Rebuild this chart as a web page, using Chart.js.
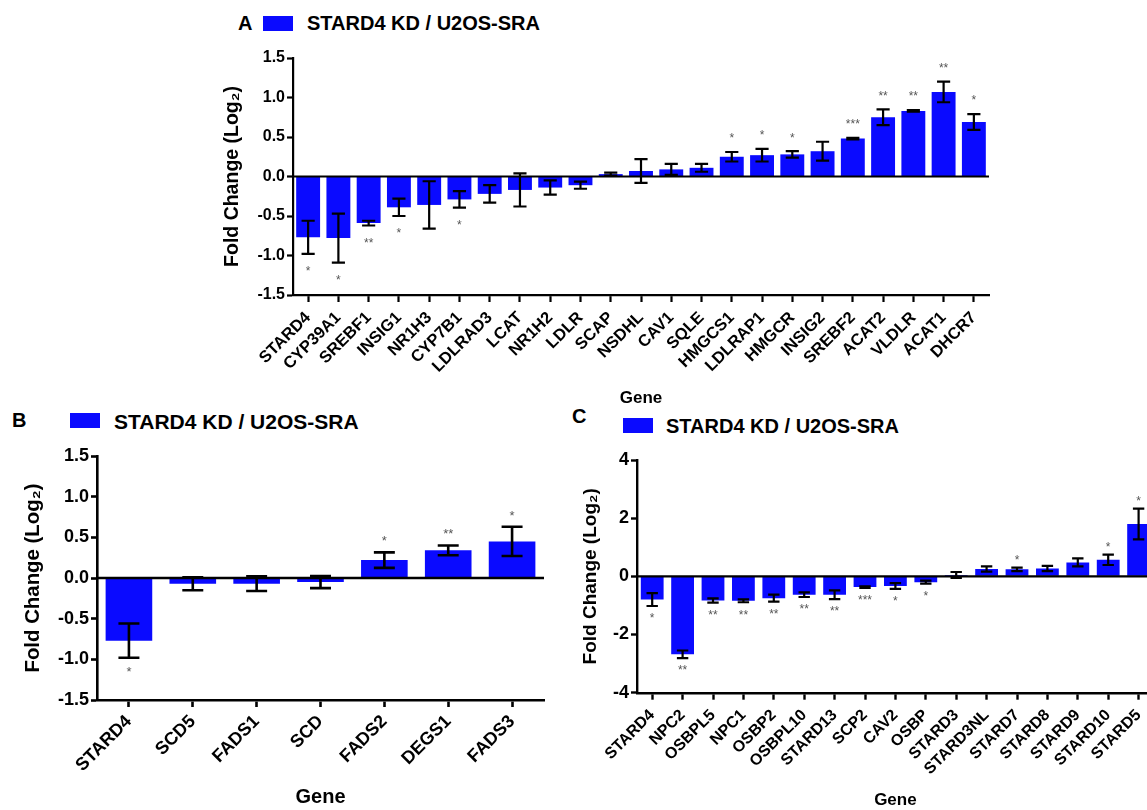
<!DOCTYPE html>
<html>
<head>
<meta charset="utf-8">
<script src="https://cdn.jsdelivr.net/npm/chart.js@4.4.1/dist/chart.umd.min.js"></script>
<style>
  html, body { margin:0; padding:0; width:1147px; height:810px; overflow:hidden; background:#fff; }
  body { position:relative; font-family:'Liberation Sans', Arial, sans-serif; }
  canvas { position:absolute; }
  .lbl { position:absolute; font-weight:bold; color:#000; white-space:nowrap; line-height:1; }
  .box { position:absolute; background:#0a0aff; }
</style>
</head>
<body>
<div class="lbl" style="left:238px; top:13px; font-size:20px;">A</div>
<div class="box" style="left:263px; top:16px; width:30px; height:15px;"></div>
<div class="lbl" style="left:307px; top:13px; font-size:20px;">STARD4 KD / U2OS-SRA</div>

<div class="lbl" style="left:12px; top:410px; font-size:20px;">B</div>
<div class="box" style="left:70px; top:413px; width:30px; height:15px;"></div>
<div class="lbl" style="left:114px; top:410.5px; font-size:21px;">STARD4 KD / U2OS-SRA</div>

<div class="lbl" style="left:572px; top:406px; font-size:20px;">C</div>
<div class="box" style="left:623px; top:418px; width:30px; height:15px;"></div>
<div class="lbl" style="left:666px; top:416px; font-size:20px;">STARD4 KD / U2OS-SRA</div>

<canvas id="cA" width="1000" height="415" style="left:0px; top:0px;"></canvas>
<canvas id="cB" width="560" height="370" style="left:0px; top:440px;"></canvas>
<canvas id="cC" width="600" height="372" style="left:560px; top:440px;"></canvas>

<script>
// ---------- DATA ----------
const seriesLabel = 'STARD4 KD / U2OS-SRA';

const genesA = ['STARD4','CYP39A1','SREBF1','INSIG1','NR1H3','CYP7B1','LDLRAD3','LCAT','NR1H2','LDLR','SCAP','NSDHL','CAV1','SQLE','HMGCS1','LDLRAP1','HMGCR','INSIG2','SREBF2','ACAT2','VLDLR','ACAT1','DHCR7'];
const valuesA = [-0.77,-0.78,-0.59,-0.39,-0.36,-0.29,-0.22,-0.17,-0.14,-0.11,0.03,0.07,0.09,0.11,0.25,0.27,0.28,0.32,0.48,0.75,0.83,1.07,0.69];
const errorsA = [0.21,0.31,0.03,0.11,0.30,0.105,0.11,0.21,0.09,0.045,0.02,0.15,0.07,0.05,0.06,0.08,0.04,0.12,0.01,0.10,0.01,0.13,0.10];
const starsA  = ['*','*','**','*','','*','','','','','','','','','*','*','*','','***','**','**','**','*'];
const yTicksA = [-1.5,-1.0,-0.5,0.0,0.5,1.0,1.5];

const genesB = ['STARD4','SCD5','FADS1','SCD','FADS2','DEGS1','FADS3'];
const valuesB = [-0.77,-0.07,-0.07,-0.05,0.22,0.34,0.45];
const errorsB = [0.21,0.08,0.09,0.075,0.095,0.06,0.18];
const starsB  = ['*','','','','*','**','*'];
const yTicksB = [-1.5,-1.0,-0.5,0.0,0.5,1.0,1.5];

const genesC = ['STARD4','NPC2','OSBPL5','NPC1','OSBP2','OSBPL10','STARD13','SCP2','CAV2','OSBP','STARD3','STARD3NL','STARD7','STARD8','STARD9','STARD10','STARD5'];
const valuesC = [-0.80,-2.68,-0.83,-0.84,-0.75,-0.63,-0.63,-0.37,-0.33,-0.20,0.05,0.25,0.24,0.27,0.48,0.57,1.80];
const errorsC = [0.22,0.13,0.07,0.05,0.12,0.08,0.15,0.03,0.10,0.05,0.10,0.09,0.06,0.09,0.14,0.18,0.53];
const starsC  = ['*','**','**','**','**','**','**','***','*','*','','','*','','','*','*'];
const yTicksC = [-4,-2,0,2,4];

// ---------- RENDERING ----------
Chart.defaults.color = '#000';
const FONT = "'Liberation Sans', Arial, sans-serif";
const BLUE = '#0a0aff';

const errorBarPlugin = {
  id: 'errorBars',
  afterDatasetsDraw(chart, args, opts) {
    const ctx = chart.ctx;
    const y = chart.scales.y;
    const area = chart.chartArea;
    const meta = chart.getDatasetMeta(0);
    const vals = chart.data.datasets[0].data;
    ctx.save();
    const y0 = y.getPixelForValue(0);
    ctx.strokeStyle = '#000';
    ctx.lineWidth = opts.axisWidth;
    ctx.beginPath();
    ctx.moveTo(area.left, y0);
    ctx.lineTo(area.right, y0);
    ctx.stroke();
    ctx.lineWidth = opts.lineWidth;
    meta.data.forEach((bar, i) => {
      const v = vals[i], e = opts.errors[i];
      const yt = y.getPixelForValue(v + e);
      const yb = y.getPixelForValue(v - e);
      const hw = bar.width * opts.capFrac / 2;
      ctx.beginPath();
      ctx.moveTo(bar.x, yt); ctx.lineTo(bar.x, yb);
      ctx.moveTo(bar.x - hw, yt); ctx.lineTo(bar.x + hw, yt);
      ctx.moveTo(bar.x - hw, yb); ctx.lineTo(bar.x + hw, yb);
      ctx.stroke();
      const s = opts.stars[i];
      if (s) {
        ctx.fillStyle = '#555';
        ctx.font = opts.starSize + 'px ' + FONT;
        ctx.textAlign = 'center';
        ctx.textBaseline = 'middle';
        const sy = v >= 0 ? yt - opts.gapUp : yb + opts.gapDown;
        ctx.fillText(s, bar.x, sy + opts.starSize * 0.25);
      }
    });
    ctx.restore();
  }
};

function makeChart(id, c) {
  return new Chart(document.getElementById(id), {
    type: 'bar',
    data: {
      labels: c.labels,
      datasets: [{
        label: seriesLabel,
        data: c.values,
        backgroundColor: BLUE,
        borderWidth: 0,
        barPercentage: c.barFrac,
        categoryPercentage: 1.0
      }]
    },
    options: {
      responsive: false,
      animation: false,
      events: [],
      layout: { padding: c.padding },
      plugins: {
        legend: { display: false },
        tooltip: { enabled: false },
        errorBars: {
          errors: c.errors, stars: c.stars, capFrac: c.capFrac,
          lineWidth: c.errWidth, axisWidth: c.axisWidth,
          starSize: c.starSize, gapUp: c.gapUp, gapDown: c.gapDown
        }
      },
      scales: {
        x: {
          type: 'category',
          offset: true,
          afterFit: s => { s.height = c.xHeight; },
          border: { display: true, color: '#000', width: c.axisWidth },
          grid: { display: true, offset: false, drawOnChartArea: false, drawTicks: true,
                  tickLength: 7, tickColor: '#000', tickWidth: c.axisWidth, color: '#000' },
          ticks: { autoSkip: false, minRotation: 45, maxRotation: 45, padding: c.xTickPad,
                   color: '#000', font: { family: FONT, weight: 'bold', size: c.xTickSize } },
          title: { display: true, text: 'Gene', color: '#000', padding: 0,
                   font: { family: FONT, weight: 'bold', size: c.xTitleSize } }
        },
        y: {
          min: c.yTicks[0], max: c.yTicks[c.yTicks.length - 1],
          afterBuildTicks: s => { s.ticks = c.yTicks.map(v => ({ value: v })); },
          afterFit: s => { s.width = c.yWidth; },
          border: { display: true, color: '#000', width: c.axisWidth },
          grid: { display: true, drawOnChartArea: false, drawTicks: true,
                  tickLength: 6, tickColor: '#000', tickWidth: c.axisWidth },
          ticks: { padding: 2, color: '#000', font: { family: FONT, weight: 'bold', size: c.yTickSize },
                   callback: v => c.yDecimals ? Number(v).toFixed(1) : String(v) },
          title: { display: true, text: 'Fold Change (Log\u2082)', color: '#000', padding: 0,
                   font: { family: FONT, weight: 'bold', size: c.yTitleSize } }
        }
      }
    },
    plugins: [errorBarPlugin]
  });
}

makeChart('cA', {
  labels: genesA, values: valuesA, errors: errorsA, stars: starsA, yTicks: yTicksA, yDecimals: true,
  padding: { left: 221.3, top: 58, right: 11, bottom: 6.8 },
  yWidth: 71.7, xHeight: 113.2,
  barFrac: 0.79, capFrac: 0.55, errWidth: 2.2, axisWidth: 2.2,
  xTickSize: 16.5, xTickPad: 6, yTickSize: 16, yTitleSize: 19.5, xTitleSize: 17,
  starSize: 12, gapUp: 16, gapDown: 15
});

makeChart('cB', {
  labels: genesB, values: valuesB, errors: errorsB, stars: starsB, yTicks: yTicksB, yDecimals: true,
  padding: { left: 20.8, top: 16, right: 16, bottom: 1 },
  yWidth: 76.2, xHeight: 109,
  barFrac: 0.73, capFrac: 0.45, errWidth: 2.6, axisWidth: 2.6,
  xTickSize: 18, xTickPad: 4, yTickSize: 18, yTitleSize: 20.4, xTitleSize: 20,
  starSize: 13, gapUp: 14, gapDown: 11
});

makeChart('cC', {
  labels: genesC, values: valuesC, errors: errorsC, stars: starsC, yTicks: yTicksC, yDecimals: false,
  padding: { left: 19.6, top: 20, right: 6.2, bottom: 1.8 },
  yWidth: 57.4, xHeight: 117.5,
  barFrac: 0.75, capFrac: 0.5, errWidth: 2.2, axisWidth: 2.4,
  xTickSize: 16, xTickPad: 6, yTickSize: 18, yTitleSize: 19, xTitleSize: 17,
  starSize: 12, gapUp: 10, gapDown: 10
});
</script>
</body>
</html>
